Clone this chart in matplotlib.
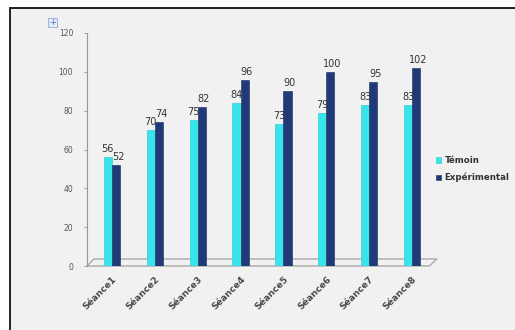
import matplotlib.pyplot as plt
import matplotlib.patches as mpatches
import numpy as np

# valeurs
seances = ['Séance1', 'Séance2', 'Séance3', 'Séance4', 'Séance5', 'Séance6', 'Séance7', 'Séance8']
temoin = [56, 70, 75, 84, 73, 79, 83, 83]
experimental = [52, 74, 82, 96, 90, 100, 95, 102]
y_ticks = [0, 20, 40, 60, 80, 100, 120]

c_tem = '#38e4ea'
c_exp = '#203a78'

fig = plt.figure(figsize=(5.15, 3.3), dpi=100)
fig.patch.set_facecolor('white')

# cadre + fond gris
bg = mpatches.Rectangle((10 / 515, -0.05), 1.1, 1 - 8 / 330 + 0.05, transform=fig.transFigure,
                        facecolor='#f1f1f1', edgecolor='#222222', linewidth=1.4, zorder=-10)
fig.patches.append(bg)
icon = mpatches.Rectangle((48 / 515, 1 - 27 / 330), 9 / 515, 9 / 330, transform=fig.transFigure,
                          facecolor='#e4ecf8', edgecolor='#8fa8d8', linewidth=0.6, zorder=-5)
fig.patches.append(icon)
fig.text(52.5 / 515, 1 - 22.5 / 330, '+', fontsize=6, color='#4a6fc0', ha='center', va='center')

ax = fig.add_axes([87 / 515, 64 / 330, 350 / 515, 233 / 330])
ax.set_facecolor('none')
ax.set_zorder(2)

x = np.arange(len(seances))
w = 0.19
b1 = ax.bar(x - w / 2, temoin, w, color=c_tem, edgecolor='#22c8d0', linewidth=0.4, label='Témoin', zorder=3)
b2 = ax.bar(x + w / 2, experimental, w, color=c_exp, edgecolor='#142a5c', linewidth=0.4, label='Expérimental', zorder=3)

for i in range(len(seances)):
    ax.text(x[i] - w / 2, temoin[i] + 1.5, str(temoin[i]), ha='center', va='bottom', fontsize=7, color='#333333', zorder=4)
    ax.text(x[i] + w / 2 + 0.05, experimental[i] + 1.5, str(experimental[i]), ha='center', va='bottom',
            fontsize=7, color='#333333', zorder=4)

ax.set_xlim(-0.58, 7.58)
ax.set_ylim(0, 120)
ax.set_yticks(y_ticks)
ax.set_yticklabels([str(v) for v in y_ticks], fontsize=5.5, color='#555555')
ax.tick_params(axis='y', length=2, width=0.6, color='#888888', pad=8)
ax.set_xticks(x)
ax.set_xticklabels(seances, rotation=45, ha='right', rotation_mode='anchor', fontsize=6.5,
                   fontweight='bold', color='#484848')
ax.tick_params(axis='x', length=0, pad=6)
for s in ['top', 'right', 'bottom']:
    ax.spines[s].set_visible(False)
ax.spines['left'].set_color('#999999')
ax.spines['left'].set_linewidth(0.8)

# sol 3D
floor = mpatches.Polygon([(-0.58, 0), (7.4, 0), (7.58, 3.6), (-0.42, 3.6)], closed=True,
                         facecolor='#f1f1f1', edgecolor='#aaaaaa', linewidth=1.0, zorder=2, clip_on=False)
ax.add_patch(floor)

leg = fig.legend(handles=[b1, b2], labels=['Témoin', 'Expérimental'], loc='upper left',
                 bbox_to_anchor=(430 / 515, 1 - 150 / 330), frameon=False, fontsize=6.2,
                 handlelength=0.6, handleheight=0.6, handletextpad=0.4, labelspacing=0.9,
                 borderpad=0.2)
for t in leg.get_texts():
    t.set_fontweight('bold')
    t.set_color('#333333')

fig.savefig('out.png', dpi=100)
